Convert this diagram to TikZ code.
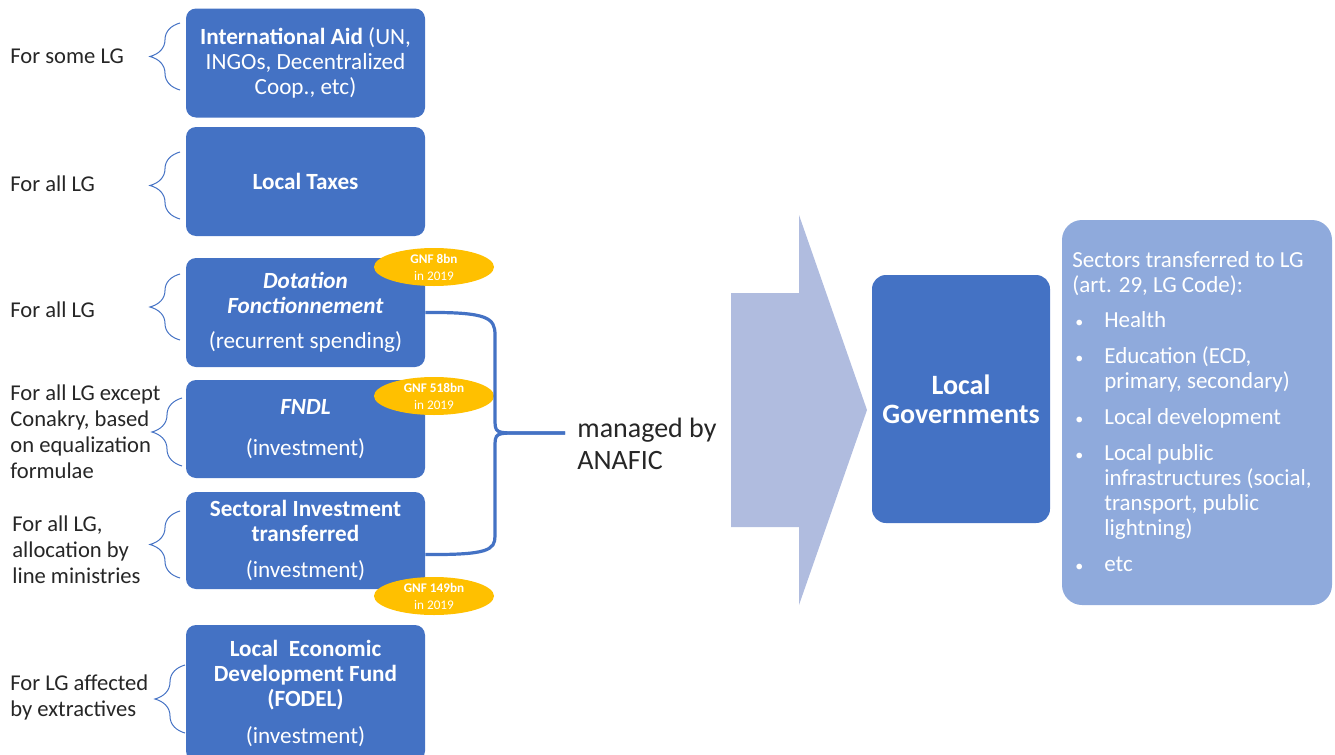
\documentclass[tikz,border=0pt]{standalone}
\usepackage{fontspec}
\setmainfont{Carlito}
\usepackage{xcolor}
\usetikzlibrary{
positioning,
shapes.geometric,
decorations.pathreplacing,
calc
}
\definecolor{fundblue}{HTML}{4472C4}
\definecolor{badgegold}{HTML}{FFC000}
\definecolor{sectorblue}{HTML}{8FAADC}
\definecolor{flowblue}{HTML}{B0BCDF}
\tikzset{
fundbox/.style={
fill=fundblue,
rounded corners=5pt,
text=white,
align=center,
minimum width=119.5pt,
inner sep=2pt,
font=\fontsize{11.6}{12.5}\selectfont
},
badge/.style={
ellipse,
fill=badgegold,
text=white,
align=center,
minimum width=60pt,
minimum height=19pt,
inner sep=0pt,
font=\fontsize{6.6}{8.5}\selectfont
},
who/.style={
anchor=west,
align=left,
text=black!85,
inner sep=0pt,
font=\fontsize{11.3}{13}\selectfont
},
lbrace/.style={
decorate,
decoration={brace,amplitude=15pt},
draw=fundblue,
line width=0.5pt
},
bigbrace/.style={
draw=fundblue,
line width=1.6pt
}
}
\newcommand{\secbullet}{\hspace{1.5pt}{\fontsize{8}{8}\selectfont\textbullet}}

\begin{document}
\begin{tikzpicture}[x=0.5pt,y=-0.5pt]

\useasboundingbox (0,0) rectangle (1335,755);

\node[fundbox, minimum height=54.5pt] (aid) at (305.5,63) {\textbf{International Aid} (UN,\\INGOs, Decentralized\\Coop., etc)};
\node[fundbox, minimum height=54.5pt] (tax) at (305.5,181.5) {\textbf{Local Taxes}};
\node[fundbox, minimum height=54.5pt] (dot) at (305.5,312.5) {\textbf{\textit{Dotation}}\\\textbf{\textit{Fonctionnement}}\\[5pt](recurrent spending)};
\node[fundbox, minimum height=49pt] (fndl) at (305.5,429) {\textbf{\textit{FNDL}}\\[8pt](investment)};
\node[fundbox, minimum height=48.5pt] (sect) at (305.5,540.5) {\textbf{Sectoral Investment}\\\textbf{transferred}\\[5.5pt](investment)};
\node[fundbox, minimum height=68pt] (fodel) at (305.5,693) {\textbf{Local\ \ Economic}\\\textbf{Development Fund}\\\textbf{(FODEL)}\\[6pt](investment)};

\node[badge] (b8) at (434,267) {\textbf{GNF 8bn}\\in 2019};
\node[badge] (b518) at (434,396) {\textbf{GNF 518bn}\\in 2019};
\node[badge] (b149) at (434,596) {\textbf{GNF 149bn}\\in 2019};

\node[who] (for1) at (10,56) {For some LG};
\node[who] (for2) at (10,184) {For all LG};
\node[who] (for3) at (10,310) {For all LG};
\node[who] (for4) at (10,432) {For all LG except\\Conakry, based\\on equalization\\formulae};
\node[who] (for5) at (12,550) {For all LG,\\allocation by\\line ministries};
\node[who] (for6) at (10,697) {For LG affected\\by extractives};

\draw[lbrace] (180,90) -- (180,23);
\draw[lbrace] (180,219) -- (180,152);
\draw[lbrace] (180,340) -- (180,274);
\draw[lbrace] (182,466) -- (182,398);
\draw[lbrace] (180,578) -- (180,511);
\draw[lbrace] (185,733) -- (185,665);

\node[anchor=west, align=left, text=black!85, inner sep=0pt, font=\fontsize{14}{16}\selectfont] (mgd) at (577,444) {managed by\\ANAFIC};
\coordinate (tip) at (565,433);
\draw[bigbrace] (dot.east) .. controls (488,312) and (495,318) .. (495,335) -- (495,418) .. controls (495,433) .. (520,433) -- (tip);
\draw[bigbrace] (tip) -- (520,433) .. controls (495,433) .. (495,448) -- (495,536) .. controls (495,550) and (488,555) .. ([yshift=-7pt]sect.east);

\fill[flowblue] (731,293) -- (799,293) -- (799,215) -- (867,410) -- (799,605) -- (799,527) -- (731,527) -- cycle;

\node[fill=fundblue, rounded corners=7pt, text=white, align=center, minimum width=89pt, minimum height=124pt, font=\bfseries\fontsize{14}{14.5}\selectfont] (lg) at (961,399) {Local\\Governments};

\node[fill=sectorblue, rounded corners=10pt, minimum width=135pt, minimum height=192.5pt] (sectors) at (1197,412.5) {};
\node[anchor=north west, text=white, inner sep=0pt, font=\fontsize{11.5}{12.5}\selectfont] (list) at (1072,250) {%
\begin{tabular}{@{}p{16pt}@{}l@{}}
\multicolumn{2}{@{}l@{}}{Sectors transferred to LG}\\
\multicolumn{2}{@{}l@{}}{(art. 29, LG Code):}\\[5pt]
\secbullet & Health\\[5.5pt]
\secbullet & Education (ECD,\\
 & primary, secondary)\\[5.5pt]
\secbullet & Local development\\[5.5pt]
\secbullet & Local public\\
 & infrastructures (social,\\
 & transport, public\\
 & lightning)\\[5.5pt]
\secbullet & etc
\end{tabular}};

\end{tikzpicture}
\end{document}
